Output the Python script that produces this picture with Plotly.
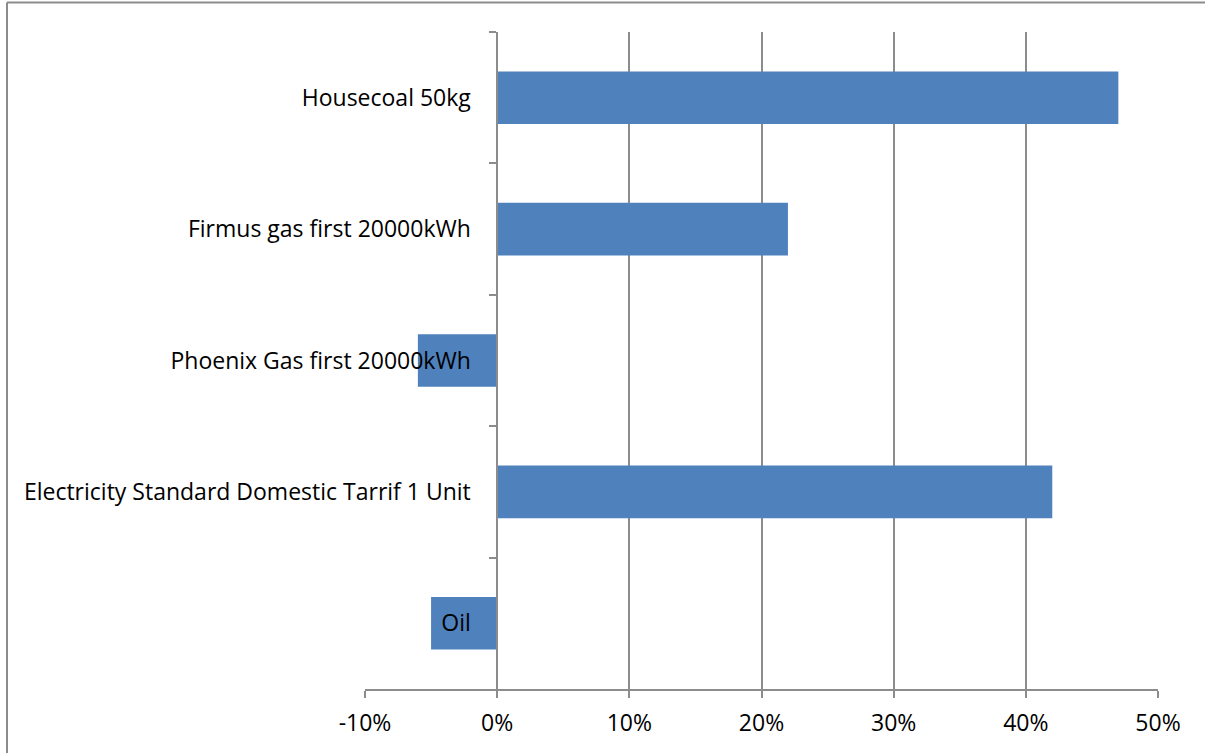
import plotly.graph_objects as go

categories = [
    "Housecoal 50kg",
    "Firmus gas first 20000kWh",
    "Phoenix Gas first 20000kWh",
    "Electricity Standard Domestic Tarrif 1 Unit",
    "Oil",
]
values = [0.47, 0.22, -0.06, 0.42, -0.05]
x_ticks = [-0.1, 0.0, 0.1, 0.2, 0.3, 0.4, 0.5]
x_tick_labels = ["-10%", "0%", "10%", "20%", "30%", "40%", "50%"]

W, H = 1205, 753
L, R, T, B = 365, 1158, 32, 689
FONT = "Open Sans, Lato, sans-serif"
FSIZE = 23
GRID = "#8c8c8c"

fig = go.Figure(
    go.Bar(
        x=values,
        y=categories,
        orientation="h",
        marker=dict(color="#4f81bd", line=dict(width=0)),
        hoverinfo="skip",
    )
)

zero_pos = (0 - x_ticks[0]) / (x_ticks[-1] - x_ticks[0])

fig.update_layout(
    width=W,
    height=H,
    margin=dict(l=L, r=W - R, t=T, b=H - B, pad=0),
    paper_bgcolor="white",
    plot_bgcolor="white",
    bargap=0.6,
    showlegend=False,
    font=dict(family=FONT, size=FSIZE, color="#000000"),
    xaxis=dict(
        range=[x_ticks[0], x_ticks[-1]],
        tickvals=x_ticks,
        ticktext=x_tick_labels,
        showgrid=True,
        gridcolor=GRID,
        gridwidth=1.5,
        zeroline=False,
        showline=True,
        linecolor=GRID,
        linewidth=1.5,
        ticks="outside",
        ticklen=7,
        tickcolor=GRID,
        tickwidth=1.5,
        ticklabelstandoff=6,
        tickfont=dict(family=FONT, size=FSIZE),
        domain=[0, 1],
    ),
    yaxis=dict(
        categoryorder="array",
        categoryarray=categories,
        autorange="reversed",
        anchor="free",
        position=zero_pos,
        showgrid=False,
        zeroline=False,
        showline=True,
        linecolor=GRID,
        linewidth=1.5,
        ticks="outside",
        tickson="boundaries",
        ticklen=7,
        tickcolor=GRID,
        tickwidth=1.5,
        ticklabelstandoff=21,
        tickfont=dict(family=FONT, size=FSIZE),
    ),
)

def px_to_paper_x(px):
    return (px - L) / (R - L)

def px_to_paper_y(py):
    return (B - py) / (B - T)

fig.add_shape(type="line", xref="paper", yref="paper",
              x0=px_to_paper_x(7), x1=px_to_paper_x(1210),
              y0=px_to_paper_y(2.5), y1=px_to_paper_y(2.5),
              line=dict(color=GRID, width=2))
fig.add_shape(type="line", xref="paper", yref="paper",
              x0=px_to_paper_x(7), x1=px_to_paper_x(7),
              y0=px_to_paper_y(2.5), y1=px_to_paper_y(760),
              line=dict(color=GRID, width=2))

fig.write_html("out.html")
